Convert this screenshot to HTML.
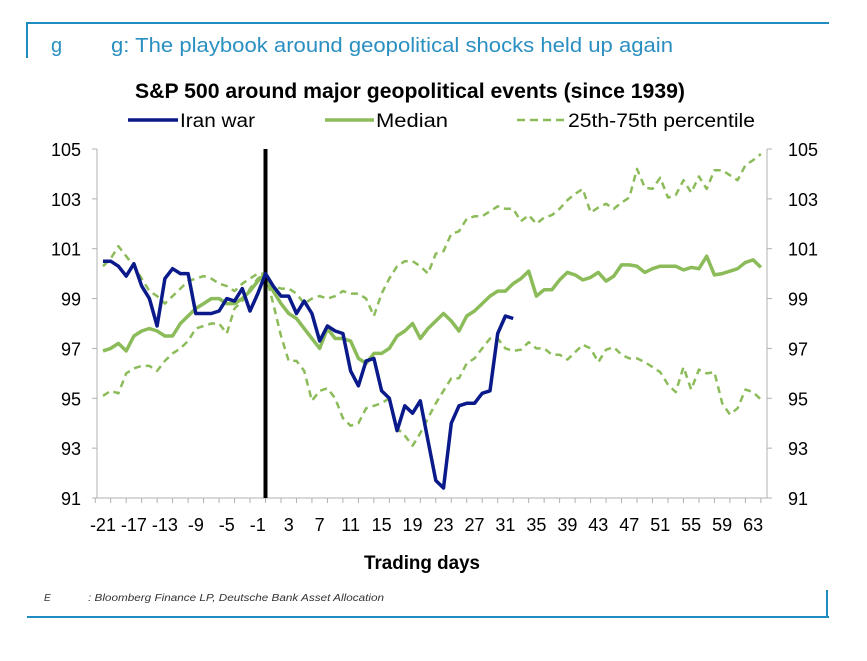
<!DOCTYPE html>
<html><head><meta charset="utf-8"><style>
body{margin:0;background:#fff;width:867px;height:656px;overflow:hidden}
text{font-family:"Liberation Sans",sans-serif}
</style></head><body>
<svg id="chart" width="867" height="656" xmlns="http://www.w3.org/2000/svg">
<line x1="26" y1="23" x2="829" y2="23" stroke="#1f8bbf" stroke-width="2"/>
<line x1="27" y1="22" x2="27" y2="58" stroke="#1f8bbf" stroke-width="2"/>
<line x1="27" y1="617" x2="829" y2="617" stroke="#1f8bbf" stroke-width="2"/>
<line x1="827" y1="590" x2="827" y2="618" stroke="#1f8bbf" stroke-width="2"/>
<text x="51" y="52" font-size="20" fill="#2a8fc1">g</text>
<text x="111" y="52" font-size="20" fill="#2a8fc1" textLength="562" lengthAdjust="spacingAndGlyphs">g: The playbook around geopolitical shocks held up again</text>
<text x="135" y="98" font-size="21" font-weight="bold" fill="#000" textLength="550" lengthAdjust="spacingAndGlyphs">S&amp;P 500 around major geopolitical events (since 1939)</text>
<g>
<g><line x1="128" y1="120" x2="178" y2="120" stroke="#0a1a8a" stroke-width="3.5"/><text x="180" y="127" font-size="19" textLength="75" lengthAdjust="spacingAndGlyphs">Iran war</text></g>
<g><line x1="325" y1="120" x2="374" y2="120" stroke="#8cbc5a" stroke-width="3.5"/><text x="376" y="127" font-size="19" textLength="72" lengthAdjust="spacingAndGlyphs">Median</text></g>
<g><line x1="517" y1="120" x2="566" y2="120" stroke="#8cbc5a" stroke-width="2.5" stroke-dasharray="8,5"/><text x="568" y="127" font-size="19" textLength="187" lengthAdjust="spacingAndGlyphs">25th-75th percentile</text></g>
</g>
<g id="plot"></g>
<text x="422" y="569" font-size="19" font-weight="bold" text-anchor="middle" textLength="116" lengthAdjust="spacingAndGlyphs">Trading days</text>
<text x="44" y="601" font-size="10" font-style="italic" fill="#333">E</text>
<text x="88" y="601" font-size="10" font-style="italic" fill="#333" textLength="296" lengthAdjust="spacingAndGlyphs">: Bloomberg Finance LP, Deutsche Bank Asset Allocation</text>
</svg>
<script>
const days=[];for(let d=-21;d<=64;d++)days.push(d);
const iranWar=[100.5,100.5,100.3,99.9,100.4,99.5,99.0,97.9,99.8,100.2,100.0,100.0,98.4,98.4,98.4,98.5,99.0,98.9,99.4,98.5,99.2,100.0,99.5,99.1,99.1,98.4,98.9,98.4,97.3,97.9,97.7,97.6,96.1,95.5,96.5,96.6,95.3,95.0,93.7,94.7,94.4,94.9,93.3,91.7,91.4,94.0,94.7,94.8,94.8,95.2,95.3,97.6,98.3,98.2];
const median=[96.9,97.0,97.2,96.9,97.5,97.7,97.8,97.7,97.5,97.5,98.0,98.3,98.6,98.8,99.0,99.0,98.8,98.8,99.0,99.3,99.7,100.0,99.3,98.8,98.4,98.2,97.8,97.4,97.0,97.8,97.4,97.4,97.3,96.6,96.4,96.8,96.8,97.0,97.5,97.7,98.0,97.4,97.8,98.1,98.4,98.1,97.7,98.3,98.5,98.8,99.1,99.3,99.3,99.6,99.8,100.1,99.1,99.35,99.35,99.75,100.05,99.95,99.75,99.85,100.05,99.7,99.9,100.35,100.35,100.3,100.05,100.2,100.3,100.3,100.3,100.15,100.25,100.2,100.7,99.95,100.0,100.1,100.2,100.45,100.55,100.25];
const upper=[100.3,100.6,101.1,100.7,100.3,99.8,99.3,99.1,98.8,99.1,99.4,99.7,99.8,99.9,99.8,99.6,99.5,99.3,99.6,99.8,100.0,100.0,99.5,99.4,99.4,99.2,98.8,99.0,99.1,99.0,99.1,99.3,99.2,99.2,99.0,98.3,99.2,99.8,100.3,100.5,100.5,100.3,100.0,100.8,100.9,101.6,101.7,102.2,102.3,102.3,102.5,102.7,102.6,102.6,102.1,102.35,102.0,102.25,102.35,102.6,102.95,103.2,103.4,102.45,102.65,102.8,102.6,102.85,103.05,104.2,103.45,103.4,103.85,103.05,103.15,103.75,103.25,103.9,103.4,104.15,104.15,103.95,103.75,104.35,104.55,104.8];
const lower=[95.1,95.3,95.2,96.0,96.2,96.3,96.3,96.1,96.5,96.8,97.0,97.3,97.8,97.9,98.0,98.0,97.6,98.6,98.9,99.4,99.8,100.0,98.8,97.5,96.5,96.5,96.1,94.9,95.3,95.4,95.0,94.2,93.9,94.0,94.6,94.7,94.8,95.0,93.8,93.5,93.1,93.6,94.2,94.8,95.3,95.8,95.8,96.4,96.6,97.0,97.4,97.4,97.0,96.9,96.95,97.25,97.0,97.0,96.75,96.75,96.55,96.85,97.15,97.0,96.45,96.95,97.05,96.75,96.6,96.6,96.45,96.25,96.05,95.55,95.25,96.25,95.35,96.15,96.0,96.05,94.8,94.35,94.6,95.35,95.25,94.95];
const yTicks=[91,93,95,97,99,101,103,105];
const xLabels=[-21,-17,-13,-9,-5,-1,3,7,11,15,19,23,27,31,35,39,43,47,51,55,59,63];
const eventDay=0;
const NS="http://www.w3.org/2000/svg";
const X0=97,X1=767,Y0=149,Y1=498;
const xs=d=>265.5+(d)*7.74;
const ys=v=>Y0+(105-v)*(Y1-Y0)/14;
const g=document.getElementById('plot');
function mk(tag,attrs){const e=document.createElementNS(NS,tag);for(const k in attrs)e.setAttribute(k,attrs[k]);g.appendChild(e);return e;}
let e=mk('line',{x1:X0,y1:Y0,x2:X0,y2:Y1,stroke:'#b0b0b0','stroke-width':1});


e=mk('line',{x1:X1,y1:Y0,x2:X1,y2:Y1,stroke:'#b0b0b0','stroke-width':1});


e=mk('line',{x1:X0,y1:Y1,x2:X1,y2:Y1,stroke:'#b0b0b0','stroke-width':1});


yTicks.forEach(v=>{
 const y=ys(v);
 let t=mk('line',{x1:X0-5,y1:y,x2:X0,y2:y,stroke:'#b0b0b0'});
 
 
 t=mk('line',{x1:X1,y1:y,x2:X1+5,y2:y,stroke:'#b0b0b0'});
 
 
 let l=mk('text',{x:81,y:y+7,'font-size':18,'text-anchor':'end'});l.textContent=v;
 
 
 l=mk('text',{x:788,y:y+7,'font-size':18});l.textContent=v;
 
 
});
for(let d=-22;d<=64;d+=2){
 const t=mk('line',{x1:xs(d),y1:Y1,x2:xs(d),y2:Y1+5,stroke:'#b0b0b0'});
 
 
}
xLabels.forEach(d=>{
 const l=mk('text',{x:xs(d),y:531,'font-size':18,'text-anchor':'middle'});l.textContent=d;
 
 
});
function line(vals,attrs,name){
 const p=vals.map((v,i)=>(i?'L':'M')+xs(days[i]).toFixed(1)+','+ys(v).toFixed(1)).join('');
 const el=mk('path',Object.assign({d:p,fill:'none','stroke-linejoin':'round'},attrs));
 
 
}
line(upper,{stroke:'#8cbc5a','stroke-width':2.5,'stroke-dasharray':'7,5'},'percentile-75-line');
line(lower,{stroke:'#8cbc5a','stroke-width':2.5,'stroke-dasharray':'7,5'},'percentile-25-line');
line(median,{stroke:'#8cbc5a','stroke-width':3.5},'median-line');
const ev=mk('line',{x1:xs(eventDay),y1:Y0,x2:xs(eventDay),y2:Y1,stroke:'#000','stroke-width':4});


line(iranWar,{stroke:'#0a1a8a','stroke-width':3.5},'iran-war-line');
</script>
</body></html>
